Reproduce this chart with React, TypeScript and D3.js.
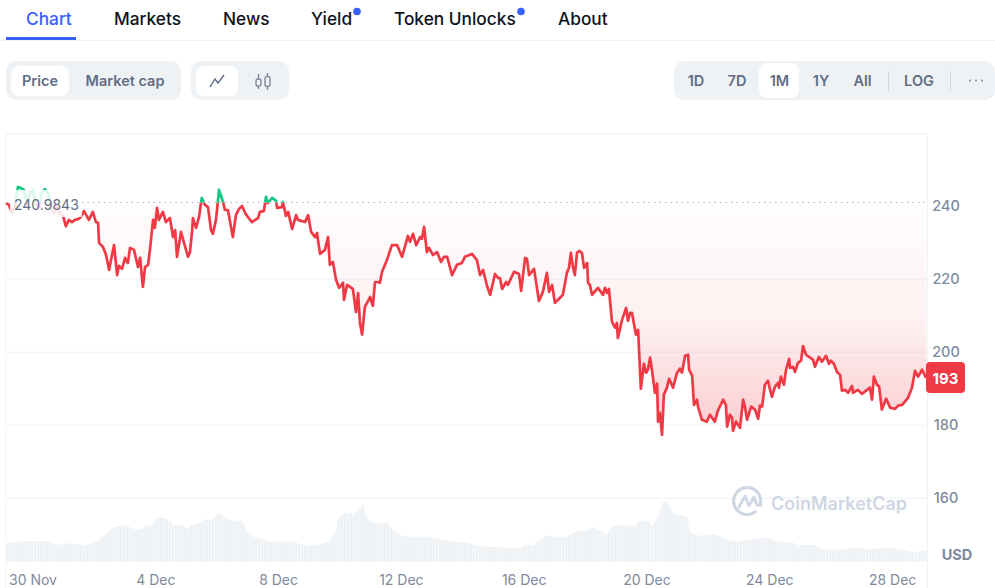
import React from 'react';
import * as d3 from 'd3';

type Pt = [number, number];

// [days since 30 Nov, price in USD]
const priceNov29Dec5: Pt[] = [
  [-0.88, 240.8], [-0.78, 240.3], [-0.68, 238.1], [-0.59, 239.7], [-0.49, 245.2], [-0.39, 244.9], [-0.29, 244.4], [-0.2, 240.3],
  [-0.1, 243.8], [0, 244.1], [0.1, 240.3], [0.2, 239.7], [0.29, 243.8], [0.39, 244.6], [0.49, 243.6], [0.59, 239.5],
  [0.68, 238.1], [0.78, 239.7], [0.88, 238.1], [0.98, 237.3], [1.07, 234.5], [1.17, 236.2], [1.27, 235.6], [1.37, 236.2],
  [1.47, 236.4], [1.56, 237], [1.66, 238.6], [1.82, 236.2], [1.95, 238.4], [2.05, 235.6], [2.12, 235.4], [2.15, 229.9],
  [2.28, 228.8], [2.38, 226.6], [2.48, 222.5], [2.54, 225.2], [2.64, 229.3], [2.74, 221.1], [2.8, 223.6], [2.9, 222.8],
  [3.0, 225.8], [3.09, 224.4], [3.16, 228.5], [3.29, 228], [3.42, 223.3], [3.49, 225.8], [3.58, 217.9], [3.65, 223.3],
  [3.75, 223.9], [3.81, 228], [3.91, 236.2], [3.97, 234], [4.04, 239.5], [4.1, 236.2], [4.23, 238.4], [4.33, 235.6],
  [4.46, 236.7], [4.56, 231.5], [4.63, 233.4], [4.69, 226.1], [4.82, 232.9], [4.92, 229.9], [5.05, 226.1], [5.11, 227.2],
];

const priceDec5Dec11: Pt[] = [
  [5.18, 232.9], [5.21, 236.7], [5.31, 234], [5.41, 237], [5.47, 240.8], [5.5, 242.2], [5.6, 240.3], [5.7, 239.7],
  [5.8, 233.4], [5.86, 232.4], [5.96, 236.2], [6.06, 244.4], [6.19, 241.1], [6.25, 238.9], [6.35, 238.9], [6.42, 235.6],
  [6.51, 231.5], [6.61, 237.5], [6.71, 239.2], [6.81, 240], [6.91, 238.1], [7.0, 237], [7.13, 235.6], [7.33, 236.7],
  [7.39, 238.4], [7.52, 238.6], [7.59, 242.5], [7.65, 240.8], [7.79, 242.2], [7.92, 241.4], [7.95, 239.5], [8.11, 239.7],
  [8.14, 241.1], [8.24, 237.3], [8.31, 238.4], [8.44, 233.7], [8.57, 237.5], [8.63, 236.2], [8.86, 235.6], [8.96, 237.5],
  [9.06, 232.9], [9.19, 231.5], [9.25, 232.6], [9.35, 226.9], [9.51, 228], [9.61, 231.5], [9.67, 223.9], [9.77, 224.7],
  [9.87, 219.8], [9.97, 217.6], [10.1, 219], [10.13, 214.3], [10.23, 218.4], [10.42, 217.3], [10.52, 211], [10.59, 216.2],
  [10.65, 208], [10.72, 204.8], [10.81, 212.4], [10.98, 215.1], [11.07, 212.7], [11.14, 219.2],
];

const priceDec11Dec17: Pt[] = [
  [11.24, 219.2], [11.3, 219], [11.37, 222], [11.53, 225.2], [11.69, 229.3], [11.86, 229.3], [12.02, 226.1], [12.15, 229.9],
  [12.21, 231.8], [12.28, 230.2], [12.38, 232.4], [12.48, 229.3], [12.61, 231.5], [12.67, 231], [12.74, 234.3], [12.83, 227.4],
  [12.9, 228.5], [13.03, 226.6], [13.16, 227.4], [13.29, 224.7], [13.39, 226.1], [13.49, 226.1], [13.65, 221.1], [13.81, 223.9],
  [13.97, 224.4], [14.07, 226.1], [14.3, 226.9], [14.46, 225.2], [14.56, 221.1], [14.66, 222.5], [14.79, 218.1], [14.89, 215.7],
  [15.05, 221.4], [15.15, 220.3], [15.21, 220.3], [15.28, 217.3], [15.41, 219.2], [15.47, 218.4], [15.67, 222], [15.83, 221.4],
  [15.9, 216.8], [16.03, 225.8], [16.09, 225.5], [16.16, 221.1], [16.32, 222.8], [16.48, 214], [16.61, 216.5], [16.74, 221.7],
  [16.81, 216.5], [16.91, 218.4], [17, 213.5],
];

const priceDec17Dec23: Pt[] = [
  [17.17, 214.9], [17.26, 215.7], [17.39, 221.7], [17.46, 223.1], [17.52, 227.2], [17.59, 223.1], [17.65, 221.1], [17.72, 227.2],
  [17.79, 227.7], [17.88, 227.2], [17.95, 223.1], [18.05, 224.4], [18.08, 219], [18.14, 218.4], [18.21, 215.7], [18.4, 217.6],
  [18.57, 215.7], [18.63, 217.6], [18.7, 216.2], [18.76, 217.3], [18.86, 208.3], [18.96, 206.7], [19.02, 208], [19.05, 203.9],
  [19.19, 208.9], [19.32, 212.1], [19.38, 208.6], [19.45, 210.8], [19.51, 210.8], [19.58, 207.5], [19.64, 204.8], [19.71, 206.1],
  [19.8, 190], [19.9, 196.8], [19.97, 194.4], [20.03, 195.2], [20.1, 198.5], [20.16, 195.2], [20.26, 188.9], [20.33, 191.4],
  [20.36, 181], [20.42, 183.4], [20.49, 177.4], [20.55, 188.4], [20.65, 190.3], [20.72, 192.7], [20.85, 190.3], [20.98, 194.4],
  [21.07, 195.5], [21.14, 194.4], [21.24, 199], [21.34, 199.3], [21.37, 195.2], [21.47, 193.6], [21.53, 185.6], [21.63, 187],
  [21.66, 185.1], [21.79, 181.5], [21.95, 181], [22.05, 182.9], [22.21, 181], [22.31, 184], [22.48, 187], [22.57, 185.6],
  [22.61, 179.6], [22.7, 182.9], [22.77, 182.1], [22.8, 178.5], [22.9, 181], [23.03, 179.3], [23.13, 187], [23.19, 185.1],
];

const priceDec23Dec29: Pt[] = [
  [23.26, 181.5], [23.39, 185.1], [23.52, 184.3], [23.62, 181.8], [23.68, 185.4], [23.75, 185.1], [23.84, 191.1], [23.94, 192.2],
  [24.01, 189.7], [24.07, 187.8], [24.17, 190.6], [24.27, 191.6], [24.3, 190.3], [24.36, 193.3], [24.46, 191.1], [24.53, 195.2],
  [24.63, 198.2], [24.66, 195.7], [24.76, 196], [24.82, 194.6], [24.92, 197.1], [25.02, 197.7], [25.08, 201.7], [25.18, 199.3],
  [25.31, 198.5], [25.41, 197.9], [25.47, 196], [25.6, 198.7], [25.7, 197.4], [25.83, 199], [25.93, 196.8], [25.99, 197.7],
  [26.09, 196.8], [26.19, 194.6], [26.29, 193.8], [26.35, 189.5], [26.45, 189.7], [26.55, 188.9], [26.68, 190.8], [26.71, 188.9],
  [26.87, 189.7], [27, 188.6], [27.17, 189.7], [27.26, 190.3], [27.33, 187], [27.39, 193.3], [27.49, 191.1], [27.56, 190.6],
  [27.65, 184.3], [27.79, 187.3], [27.92, 184.8], [28.08, 184.5], [28.18, 185.4], [28.31, 185.6], [28.4, 186.5], [28.5, 187.5],
  [28.63, 190.3], [28.73, 194.9], [28.83, 193.3], [28.96, 195.2], [29.09, 193],
];

// [days since 30 Nov, volume in USD bn, estimated]
const volumeFirstHalf: Pt[] = [
  [-0.91, 3.67], [-0.52, 4], [-0.26, 4.13], [0.46, 4.13], [0.78, 3.33], [1.11, 3.67], [1.76, 3.33], [2.08, 4], [2.41, 5.67],
  [2.67, 7], [3.06, 7.33], [3.26, 6.53], [3.49, 6.33], [3.65, 7.2], [3.88, 7.2], [3.97, 8.47], [4.2, 8.87], [4.46, 8.33],
  [4.56, 7.33], [4.85, 7.33], [5.02, 6.47], [5.18, 7.33], [5.44, 7.8], [5.6, 8.47], [5.83, 8.47], [6.03, 9.8], [6.25, 8.87],
  [6.48, 8.2], [6.81, 8.13], [7.0, 5.67], [7.17, 5], [7.49, 4.53], [7.72, 3.93], [8.47, 4.07], [8.86, 3.2], [9.25, 3.4],
  [9.61, 4], [9.84, 5.67], [9.93, 8.47], [10.16, 9.87], [10.42, 9.53], [10.59, 10.2], [10.75, 11.53], [10.91, 8.33],
  [11.21, 7.67], [11.56, 7.67], [11.73, 6.33], [12.02, 5.13], [12.44, 4.87], [12.93, 4.87], [13.49, 4.2], [14.14, 3.8],
  [14.63, 3], [15.21, 2.87],
];

const volumeSecondHalf: Pt[] = [
  [15.7, 2.8], [15.86, 2.53], [16.03, 3.33], [16.29, 3.4], [16.45, 4.13], [16.74, 5.27], [17, 4.87], [17.33, 4.87], [17.65, 6],
  [18.05, 6.33], [18.24, 6.87], [18.47, 6.33], [18.7, 5.33], [18.83, 6.87], [19.05, 7.33], [19.61, 7.13], [19.77, 8.2],
  [20, 8.13], [20.16, 7.33], [20.33, 8.47], [20.52, 12], [20.68, 12], [20.85, 9.67], [21.3, 9], [21.4, 6], [21.66, 5.2],
  [22.21, 5.53], [22.64, 4.33], [22.93, 4], [23.09, 4.33], [23.94, 4.8], [24.27, 4], [24.76, 3.8], [24.89, 3.33], [25.47, 3.33],
  [25.73, 2.6], [26.12, 2.33], [26.87, 2.8], [27.33, 2.47], [27.69, 2.87], [28.24, 2.47], [28.63, 2], [29.12, 2.13],
];

const priceData = [...priceNov29Dec5, ...priceDec5Dec11, ...priceDec11Dec17, ...priceDec17Dec23, ...priceDec23Dec29];
const volumeData = [...volumeFirstHalf, ...volumeSecondHalf];

const referencePrice = 240.9843;
const lastPrice = 193;
const yTicks = [240, 220, 200, 180, 160];
const xTickDays = [0, 4, 8, 12, 16, 20, 24, 28];
const xTickLabels = ['30 Nov', '4 Dec', '8 Dec', '12 Dec', '16 Dec', '20 Dec', '24 Dec', '28 Dec'];

const tabs = [
  { label: 'Chart', x: 26, active: true },
  { label: 'Markets', x: 114 },
  { label: 'News', x: 223 },
  { label: 'Yield', x: 311, dot: 357 },
  { label: 'Token Unlocks', x: 394, dot: 521 },
  { label: 'About', x: 558 },
];
const ranges = [
  { label: '1D', x: 696 },
  { label: '7D', x: 737 },
  { label: '1M', x: 779.5 },
  { label: '1Y', x: 821 },
  { label: 'All', x: 862.5 },
  { label: 'LOG', x: 919 },
];

const W = 995;
const H = 588;
const FONT = 'Inter, "Noto Sans", sans-serif';
const GREY = '#616e85';
const AXIS = '#808a9d';
const RED = '#ea3943';
const GREEN = '#16c784';
const PILL = '#eff2f5';

const x = d3.scaleLinear().domain([0, 28]).range([33, 892.6]);
const y = d3.scaleLinear().domain([160, 240]).range([498.4, 206]);
const yVol = d3.scaleLinear().domain([0, 12]).range([561.7, 501.7]);

const line = d3.line<Pt>().x((d) => x(d[0])).y((d) => y(d[1]));
const area = d3.area<Pt>().x((d) => x(d[0])).y0(y(referencePrice)).y1((d) => y(d[1]));
const volArea = d3.area<Pt>().x((d) => x(d[0])).y0(yVol(0)).y1((d) => yVol(d[1]));

const Pill = ({ x0, w, inner, innerW, iy = 66, ih = 30 }: any) => (
  <g>
    <rect x={x0} y={61} width={w} height={39} rx={10} fill={PILL} />
    <rect x={inner} y={iy} width={innerW} height={ih} rx={8} fill="#fff" />
  </g>
);

export default function App() {
  const yRef = y(referencePrice);
  return (
    <svg
      width={W}
      height={H}
      viewBox={`0 0 ${W} ${H}`}
      style={{ position: 'absolute', left: 0, top: 0, display: 'block', background: '#fff' }}
      fontFamily={FONT}
    >
      <defs>
        <clipPath id="above"><rect x={0} y={0} width={W} height={yRef} /></clipPath>
        <clipPath id="below"><rect x={0} y={yRef} width={W} height={H - yRef} /></clipPath>
        <linearGradient id="redFill" gradientUnits="userSpaceOnUse" x1={0} x2={0} y1={yRef} y2={y(177)}>
          <stop offset="0" stopColor={RED} stopOpacity={0.01} />
          <stop offset="0.5" stopColor={RED} stopOpacity={0.07} />
          <stop offset="1" stopColor={RED} stopOpacity={0.26} />
        </linearGradient>
        <linearGradient id="greenFill" gradientUnits="userSpaceOnUse" x1={0} x2={0} y1={y(246)} y2={yRef}>
          <stop offset="0" stopColor={GREEN} stopOpacity={0.2} />
          <stop offset="1" stopColor={GREEN} stopOpacity={0.02} />
        </linearGradient>
        <pattern id="volBars" patternUnits="userSpaceOnUse" width={3.07} height={10}>
          <rect width={2.6} height={10} fill={PILL} />
          <rect x={2.6} width={0.47} height={10} fill="#f6f8fa" />
        </pattern>
      </defs>

      {/* tabs */}
      {tabs.map((t) => (
        <text key={t.label} x={t.x} y={25} fontSize={17.3} fontWeight={500} fill={t.active ? '#3861fb' : '#0d1421'}>
          {t.label}
        </text>
      ))}
      {tabs.filter((t) => t.dot).map((t) => (
        <circle key={t.label} cx={t.dot} cy={11.5} r={3.8} fill="#3861fb" />
      ))}
      <rect x={0} y={40} width={W} height={1} fill={PILL} />
      <rect x={6} y={37} width={70} height={3} fill="#3861fb" />

      {/* price / market cap toggle */}
      <Pill x0={6} w={175} inner={11} innerW={58} />
      <text x={40} y={86} textAnchor="middle" fontSize={14.5} fontWeight={600} fill={GREY}>Price</text>
      <text x={125} y={86} textAnchor="middle" fontSize={14.5} fontWeight={600} fill={GREY}>Market cap</text>

      {/* line / candle toggle */}
      <Pill x0={191} w={98} inner={196} innerW={42} />
      <path d="M210 87 L215 79 L218 83 L224 75" fill="none" stroke={GREY} strokeWidth={1.4} />
      <g fill="none" stroke="#808a9d" strokeWidth={1.4}>
        <rect x={256} y={79} width={5} height={7} rx={2} />
        <rect x={265} y={76.5} width={5} height={10} rx={2} />
        <path d="M258.5 74 V79 M258.5 86 V89 M267.5 73 V76.5 M267.5 86.5 V90" />
      </g>

      {/* range toggle */}
      <Pill x0={674} w={321} inner={759} innerW={40} iy={63} ih={35} />
      {ranges.map((r) => (
        <text key={r.label} x={r.x} y={85.5} textAnchor="middle" fontSize={14.5} fontWeight={600} fill={GREY}>
          {r.label}
        </text>
      ))}
      <rect x={888} y={71} width={1} height={20} fill="#cfd6e4" />
      <rect x={950} y={71} width={1} height={20} fill="#cfd6e4" />
      <g fill="#808a9d">
        <circle cx={970} cy={80.5} r={1} />
        <circle cx={976} cy={80.5} r={1} />
        <circle cx={982} cy={80.5} r={1} />
      </g>

      {/* frame and grid */}
      <path d="M6 588 V133.5 H927.5 V588" fill="none" stroke="#eff2f5" />
      {yTicks.slice(1).map((t) => (
        <line key={t} x1={6} x2={927} y1={y(t)} y2={y(t)} stroke="#eff2f5" />
      ))}

      {/* volume */}
      <path d={volArea(volumeData) ?? ''} fill="url(#volBars)" />

      {/* price */}
      <path d={area(priceData) ?? ''} fill="url(#redFill)" clipPath="url(#below)" />
      <path d={area(priceData) ?? ''} fill="url(#greenFill)" clipPath="url(#above)" />
      <path d={line(priceData) ?? ''} fill="none" stroke="#ef3a46" strokeWidth={2.7} strokeLinejoin="round" clipPath="url(#below)" />
      <path d={line(priceData) ?? ''} fill="none" stroke={GREEN} strokeWidth={2.7} strokeLinejoin="round" clipPath="url(#above)" />

      {/* reference line and its label */}
      <line x1={82} x2={927} y1={yRef} y2={yRef} stroke="#a6b0c3" strokeWidth={1} strokeDasharray="1.5 4" />
      <rect x={10} y={190} width={72} height={27} fill="#fff" fillOpacity={0.85} />
      <text x={14} y={210} fontSize={14} fontWeight={400} fill={GREY}>{referencePrice.toFixed(4)}</text>

      {/* y axis */}
      {yTicks.map((t) => (
        <text key={t} x={946} y={y(t) + 5} textAnchor="middle" fontSize={14.5} fontWeight={500} fill={AXIS}>{t}</text>
      ))}
      <text x={957} y={560} textAnchor="middle" fontSize={14.5} fontWeight={700} fill={AXIS}>USD</text>
      <rect x={926} y={362} width={39} height={31} rx={4} fill="#ef3a46" />
      <text x={945.5} y={383.5} textAnchor="middle" fontSize={15} fontWeight={700} fill="#fff">{lastPrice}</text>

      {/* x axis */}
      {xTickDays.map((d, i) => (
        <text key={d} x={x(d)} y={585} textAnchor="middle" fontSize={14} fill={AXIS}>{xTickLabels[i]}</text>
      ))}

      {/* watermark */}
      <g fill="none" stroke="#cfd6e4" strokeWidth={3.2} strokeLinecap="round" strokeLinejoin="round">
        <path d="M755 512 A13.5 13.5 0 1 1 760.5 503" />
        <path d="M739 507 L745 496 L749 506 L754 497 L757 505 L761 505" strokeWidth={2.8} />
      </g>
      <text x={771} y={509.5} fontSize={18} fontWeight={600} fill="#cfd6e4">CoinMarketCap</text>
    </svg>
  );
}
